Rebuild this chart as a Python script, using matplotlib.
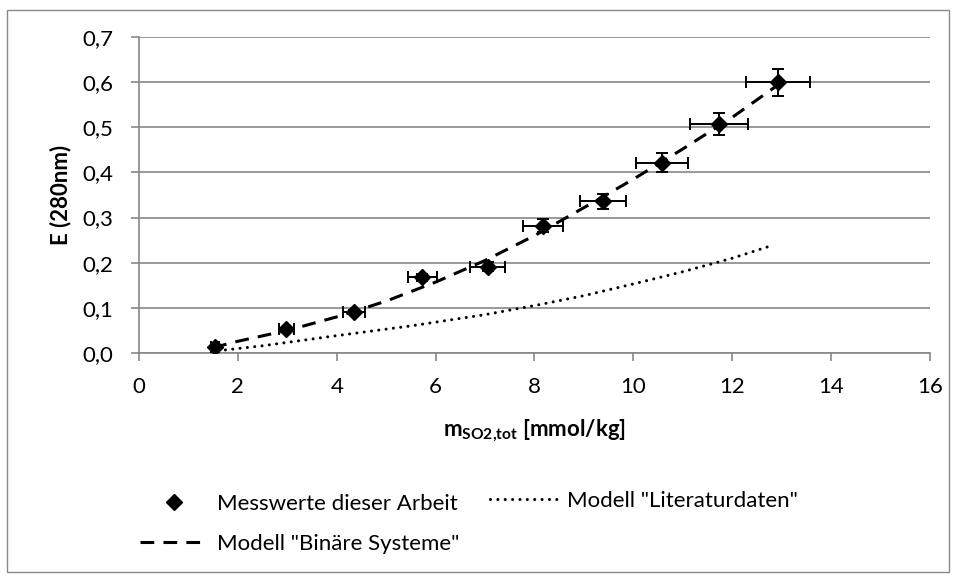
import matplotlib
matplotlib.use("Agg")
import matplotlib.pyplot as plt
from matplotlib.patches import Rectangle
from matplotlib.lines import Line2D

plt.rcParams['font.family'] = ['Lato', 'DejaVu Sans']
plt.rcParams['mathtext.fontset'] = 'custom'
plt.rcParams['mathtext.rm'] = 'Lato'
plt.rcParams['mathtext.bf'] = 'Lato:bold'

# measured data (this work)
x_meas = [1.54, 2.98, 4.35, 5.73, 7.05, 8.17, 9.39, 10.58, 11.73, 12.93]
y_meas = [0.013, 0.053, 0.091, 0.168, 0.191, 0.282, 0.336, 0.421, 0.507, 0.600]
x_err = [0.08, 0.15, 0.22, 0.29, 0.35, 0.41, 0.47, 0.53, 0.59, 0.65]
y_err = [0.001, 0.003, 0.005, 0.008, 0.010, 0.014, 0.017, 0.021, 0.025, 0.030]

# model "Binäre Systeme"
x_bin = [1.5, 2, 3, 4, 5, 6, 7, 8, 9, 10, 11, 12, 12.9]
y_bin = [0.012, 0.026, 0.050, 0.080, 0.115, 0.157, 0.205, 0.260, 0.322, 0.385, 0.452, 0.522, 0.592]

# model "Literaturdaten"
x_lit = [1.6, 2.5, 3.9, 5.5, 7.0, 8.0, 9.0, 10.0, 11.0, 12.0, 12.8]
y_lit = [0.005, 0.016, 0.037, 0.060, 0.085, 0.105, 0.127, 0.153, 0.180, 0.210, 0.238]

x_ticks = [0, 2, 4, 6, 8, 10, 12, 14, 16]
y_ticks = [0.0, 0.1, 0.2, 0.3, 0.4, 0.5, 0.6, 0.7]
y_ticklabels = ["0,0", "0,1", "0,2", "0,3", "0,4", "0,5", "0,6", "0,7"]

FS = 16
W, H = 954, 576
fig = plt.figure(figsize=(W / 100, H / 100), dpi=100)
ax = fig.add_axes([139 / W, 1 - 353 / H, (930 - 139) / W, (353 - 37) / H])

grid_c = '#878787'
ax.set_xlim(0, 16)
ax.set_ylim(0, 0.7)
ax.set_xticks(x_ticks)
ax.set_xticklabels([str(t) for t in x_ticks])
ax.set_yticks(y_ticks)
ax.set_yticklabels(y_ticklabels)
ax.yaxis.grid(True, color=grid_c, linewidth=1.2)
ax.set_axisbelow(True)
for s in ['top', 'right']:
    ax.spines[s].set_visible(False)
for s in ['left', 'bottom']:
    ax.spines[s].set_color(grid_c)
    ax.spines[s].set_linewidth(1.2)
ax.tick_params(axis='both', colors=grid_c, labelcolor='black', labelsize=FS,
               direction='out', length=5.5, width=1.2)
ax.tick_params(axis='y', pad=13)
ax.tick_params(axis='x', pad=11.5)

dotted = (0, (0.01, 2.4))
dashed = (0, (4.5, 3.0))
ax.plot(x_lit, y_lit, color='black', linewidth=2.2, linestyle=dotted,
        dash_capstyle='round')
ax.plot(x_bin, y_bin, color='black', linewidth=2.2, linestyle=dashed)
ax.errorbar(x_meas, y_meas, xerr=x_err, yerr=y_err, fmt='D', color='black',
            markersize=8, ecolor='black', elinewidth=1.4, capsize=4.5,
            capthick=1.4, zorder=5)

ax.set_ylabel('E (280nm)', fontsize=FS, fontweight='bold', labelpad=8)
ax.set_xlabel(r'$\mathbf{m}_{\mathbf{SO2{,}tot}}$ [mmol/kg]', fontsize=FS,
              fontweight='bold', labelpad=15)

h_meas = Line2D([], [], marker='D', color='black', linestyle='none', markersize=8)
h_bin = Line2D([], [], color='black', linewidth=2.2, linestyle=dashed)
h_lit = Line2D([], [], color='black', linewidth=2.2, linestyle=dotted,
               dash_capstyle='round')
common = dict(frameon=False, fontsize=FS, handlelength=3.05, handletextpad=0.4,
              borderpad=0, borderaxespad=0)
fig.legend([h_meas, h_bin], ['Messwerte dieser Arbeit', 'Modell "Binäre Systeme"'],
           loc='center left', bbox_to_anchor=(140 / W, 1 - 524 / H),
           labelspacing=0.9, **common)
fig.legend([h_lit], ['Modell "Literaturdaten"'],
           loc='center left', bbox_to_anchor=(490 / W, 1 - 501 / H), **common)

fig.patches.append(Rectangle((7 / W, 1 - 572 / H), (949 - 7) / W, (572 - 10) / H,
                             transform=fig.transFigure, fill=False,
                             edgecolor='#898989', linewidth=1.0))

fig.savefig('out.png', dpi=100)
